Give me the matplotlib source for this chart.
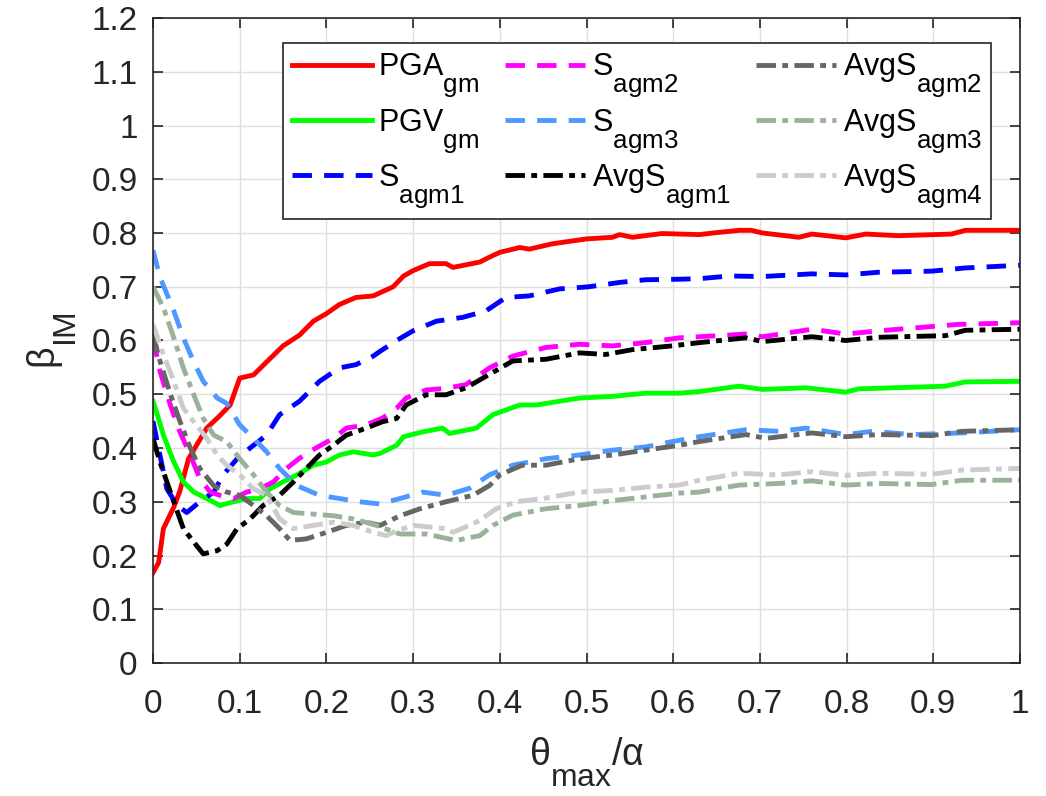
import numpy as np
import matplotlib
matplotlib.use('Agg')
import matplotlib.pyplot as plt
import matplotlib._mathtext as mt

plt.rcParams['font.family'] = ['Liberation Sans', 'DejaVu Sans']
plt.rcParams['mathtext.fontset'] = 'custom'
plt.rcParams['mathtext.rm'] = 'Liberation Sans'
plt.rcParams['mathtext.it'] = 'Liberation Sans:italic'
# MATLAB-like subscripts: nearly full size and dropped well below the baseline
mt.SHRINK_FACTOR = 0.85
mt.FontConstantsBase.sub1 = 1.0

# curves: beta_IM vs theta_max/alpha
pga_x = [0, 0.0065, 0.012, 0.024, 0.031, 0.041, 0.052, 0.062, 0.077, 0.089, 0.1, 0.116, 0.131, 0.15, 0.169,
         0.185, 0.2, 0.215, 0.234, 0.254, 0.277, 0.289, 0.3, 0.319, 0.338, 0.346, 0.377, 0.388, 0.4, 0.423,
         0.434, 0.461, 0.5, 0.53, 0.538, 0.553, 0.587, 0.63, 0.646, 0.676, 0.69, 0.703, 0.745, 0.76, 0.799,
         0.822, 0.86, 0.921, 0.937, 1.0]
pga_y = [0.168, 0.187, 0.25, 0.29, 0.32, 0.38, 0.41, 0.437, 0.46, 0.48, 0.53, 0.536, 0.56, 0.59, 0.61,
         0.636, 0.65, 0.667, 0.68, 0.683, 0.7, 0.72, 0.73, 0.743, 0.743, 0.736, 0.746, 0.755, 0.764, 0.773,
         0.77, 0.78, 0.789, 0.792, 0.797, 0.792, 0.799, 0.797, 0.8, 0.805, 0.805, 0.8, 0.792, 0.798, 0.791,
         0.798, 0.795, 0.798, 0.805, 0.805]

pgv_x = [0, 0.005, 0.012, 0.024, 0.035, 0.047, 0.062, 0.077, 0.093, 0.108, 0.123, 0.135, 0.15, 0.166, 0.185,
         0.2, 0.215, 0.231, 0.254, 0.262, 0.281, 0.289, 0.311, 0.334, 0.342, 0.373, 0.392, 0.423, 0.442, 0.492,
         0.53, 0.568, 0.607, 0.63, 0.676, 0.703, 0.753, 0.799, 0.814, 0.914, 0.937, 1.0]
pgv_y = [0.487, 0.462, 0.424, 0.374, 0.337, 0.318, 0.306, 0.293, 0.3, 0.306, 0.306, 0.324, 0.337, 0.35, 0.368,
         0.374, 0.387, 0.393, 0.387, 0.39, 0.405, 0.421, 0.43, 0.437, 0.427, 0.437, 0.462, 0.48, 0.48, 0.493,
         0.496, 0.502, 0.502, 0.505, 0.515, 0.509, 0.512, 0.504, 0.51, 0.515, 0.523, 0.524]

s1_x = [0, 0.008, 0.016, 0.028, 0.039, 0.054, 0.07, 0.081, 0.097, 0.112, 0.131, 0.146, 0.169, 0.192, 0.215,
        0.234, 0.254, 0.262, 0.281, 0.3, 0.327, 0.357, 0.384, 0.407, 0.434, 0.469, 0.503, 0.538, 0.568, 0.607,
        0.63, 0.665, 0.703, 0.76, 0.799, 0.837, 0.898, 0.937, 1.0]
s1_y = [0.45, 0.387, 0.324, 0.293, 0.28, 0.3, 0.318, 0.35, 0.38, 0.4, 0.424, 0.462, 0.487, 0.524, 0.549,
        0.555, 0.571, 0.58, 0.6, 0.618, 0.636, 0.643, 0.655, 0.68, 0.683, 0.696, 0.7, 0.708, 0.713, 0.714,
        0.715, 0.72, 0.719, 0.724, 0.722, 0.727, 0.729, 0.735, 0.74]

s2_x = [0, 0.008, 0.02, 0.031, 0.043, 0.054, 0.066, 0.077, 0.093, 0.108, 0.123, 0.139, 0.154, 0.169, 0.188,
        0.208, 0.223, 0.246, 0.265, 0.281, 0.292, 0.315, 0.338, 0.361, 0.388, 0.415, 0.453, 0.492, 0.53, 0.568,
        0.607, 0.63, 0.684, 0.703, 0.76, 0.799, 0.837, 0.875, 0.929, 1.0]
s2_y = [0.605, 0.543, 0.48, 0.43, 0.387, 0.343, 0.318, 0.312, 0.306, 0.318, 0.324, 0.337, 0.362, 0.381, 0.4,
        0.418, 0.437, 0.443, 0.456, 0.474, 0.493, 0.508, 0.511, 0.518, 0.549, 0.571, 0.587, 0.593, 0.59, 0.596,
        0.605, 0.607, 0.612, 0.607, 0.621, 0.612, 0.618, 0.623, 0.63, 0.633]

s3_x = [0, 0.008, 0.024, 0.035, 0.047, 0.058, 0.074, 0.085, 0.1, 0.116, 0.131, 0.146, 0.166, 0.192, 0.215,
        0.238, 0.261, 0.285, 0.311, 0.338, 0.365, 0.388, 0.415, 0.453, 0.492, 0.53, 0.568, 0.599, 0.63, 0.684,
        0.722, 0.753, 0.799, 0.83, 0.875, 0.933, 1.0]
s3_y = [0.768, 0.718, 0.655, 0.605, 0.56, 0.524, 0.493, 0.483, 0.443, 0.418, 0.393, 0.362, 0.33, 0.312, 0.306,
        0.3, 0.296, 0.306, 0.318, 0.312, 0.325, 0.35, 0.368, 0.38, 0.387, 0.396, 0.402, 0.412, 0.421, 0.434,
        0.431, 0.437, 0.425, 0.431, 0.425, 0.428, 0.434]

a1_x = [0, 0.008, 0.016, 0.024, 0.035, 0.047, 0.058, 0.074, 0.085, 0.097, 0.112, 0.127, 0.146, 0.162, 0.177,
        0.192, 0.208, 0.223, 0.246, 0.265, 0.281, 0.292, 0.315, 0.338, 0.361, 0.388, 0.415, 0.453, 0.492, 0.522,
        0.553, 0.599, 0.63, 0.684, 0.703, 0.76, 0.799, 0.837, 0.914, 0.937, 1.0]
a1_y = [0.418, 0.374, 0.337, 0.3, 0.25, 0.225, 0.203, 0.209, 0.221, 0.25, 0.268, 0.293, 0.312, 0.337, 0.362,
        0.387, 0.405, 0.424, 0.437, 0.449, 0.455, 0.48, 0.499, 0.499, 0.512, 0.537, 0.562, 0.565, 0.577, 0.574,
        0.583, 0.59, 0.596, 0.605, 0.598, 0.607, 0.6, 0.606, 0.609, 0.619, 0.621]

a2_x = [0, 0.008, 0.02, 0.031, 0.043, 0.054, 0.07, 0.085, 0.1, 0.116, 0.131, 0.146, 0.158, 0.177, 0.2,
        0.223, 0.246, 0.262, 0.285, 0.308, 0.338, 0.369, 0.388, 0.4, 0.426, 0.453, 0.492, 0.53, 0.568, 0.607,
        0.63, 0.684, 0.707, 0.76, 0.799, 0.837, 0.898, 0.933, 1.0]
a2_y = [0.612, 0.562, 0.5, 0.45, 0.4, 0.362, 0.33, 0.318, 0.312, 0.293, 0.274, 0.25, 0.228, 0.231, 0.243,
        0.256, 0.262, 0.256, 0.274, 0.287, 0.3, 0.312, 0.33, 0.35, 0.368, 0.368, 0.38, 0.387, 0.396, 0.405,
        0.412, 0.425, 0.418, 0.428, 0.421, 0.425, 0.423, 0.431, 0.434]

a3_x = [0, 0.012, 0.024, 0.035, 0.047, 0.058, 0.07, 0.085, 0.1, 0.116, 0.131, 0.146, 0.162, 0.185, 0.208,
        0.231, 0.254, 0.285, 0.315, 0.338, 0.35, 0.377, 0.392, 0.415, 0.453, 0.492, 0.53, 0.568, 0.607, 0.63,
        0.676, 0.722, 0.76, 0.799, 0.837, 0.898, 0.933, 1.0]
a3_y = [0.7, 0.661, 0.605, 0.549, 0.499, 0.455, 0.424, 0.412, 0.38, 0.35, 0.318, 0.293, 0.28, 0.277, 0.274,
        0.268, 0.258, 0.24, 0.24, 0.232, 0.228, 0.237, 0.256, 0.275, 0.287, 0.293, 0.302, 0.309, 0.316, 0.318,
        0.331, 0.334, 0.339, 0.331, 0.334, 0.332, 0.34, 0.34]

a4_x = [0, 0.012, 0.024, 0.035, 0.047, 0.062, 0.074, 0.085, 0.1, 0.116, 0.131, 0.146, 0.162, 0.185, 0.208,
        0.231, 0.254, 0.269, 0.281, 0.3, 0.319, 0.338, 0.346, 0.373, 0.388, 0.396, 0.419, 0.45, 0.492, 0.53,
        0.568, 0.607, 0.63, 0.676, 0.722, 0.76, 0.799, 0.837, 0.898, 0.933, 1.0]
a4_y = [0.63, 0.574, 0.524, 0.474, 0.449, 0.418, 0.387, 0.368, 0.35, 0.324, 0.312, 0.268, 0.25, 0.256, 0.262,
        0.256, 0.243, 0.237, 0.246, 0.256, 0.253, 0.25, 0.243, 0.262, 0.278, 0.287, 0.3, 0.306, 0.318, 0.321,
        0.327, 0.331, 0.34, 0.353, 0.35, 0.356, 0.349, 0.353, 0.351, 0.359, 0.362]

labels = [r'PGA$_{\rm gm}$', r'PGV$_{\rm gm}$', r'S$_{\rm agm1}$', r'S$_{\rm agm2}$', r'S$_{\rm agm3}$',
          r'AvgS$_{\rm agm1}$', r'AvgS$_{\rm agm2}$', r'AvgS$_{\rm agm3}$', r'AvgS$_{\rm agm4}$']

dash = (4, 2.5)
dashdot = (4, 1.3, 1.2, 1.3)
series = [
    (pga_x, pga_y, '#FF0000', None),
    (pgv_x, pgv_y, '#00FF00', None),
    (s1_x, s1_y, '#0000FF', dash),
    (s2_x, s2_y, '#FF00FF', dash),
    (s3_x, s3_y, '#4D99FF', dash),
    (a1_x, a1_y, '#000000', dashdot),
    (a2_x, a2_y, '#666666', dashdot),
    (a3_x, a3_y, '#99B299', dashdot),
    (a4_x, a4_y, '#CCCCCC', dashdot),
]

fig = plt.figure(figsize=(10.46, 7.96), dpi=100)
ax = fig.add_axes([153/1046, 1 - 663/796, (1020-153)/1046, (663-18)/796])

for (x, y, c, d), lab in zip(series, labels):
    line, = ax.plot(x, y, color=c, lw=3.5, label=lab)
    if d is not None:
        line.set_dashes(d)

ax.set_xlim(0, 1)
ax.set_ylim(0, 1.2)
ax.set_xticks(np.arange(0, 1.01, 0.1))
ax.set_xticklabels(['0', '0.1', '0.2', '0.3', '0.4', '0.5', '0.6', '0.7', '0.8', '0.9', '1'])
ax.set_yticks(np.arange(0, 1.21, 0.1))
ax.set_yticklabels(['0', '0.1', '0.2', '0.3', '0.4', '0.5', '0.6', '0.7', '0.8', '0.9', '1', '1.1', '1.2'])
ax.grid(True, color='#DFDFDF', lw=1)
ax.set_axisbelow(True)
ax.tick_params(direction='in', top=True, right=True, length=7, width=1.2,
               labelsize=24, colors='#262626')
ax.tick_params(axis='x', pad=18.5)
ax.tick_params(axis='y', pad=11)
for s in ax.spines.values():
    s.set_color('#262626')
    s.set_linewidth(1.2)

ax.set_xlabel(r'θ$_{\rm max}$/α', fontsize=27, labelpad=11, color='#262626')
ax.set_ylabel(r'β$_{\rm IM}$', fontsize=27, labelpad=10, color='#262626')

leg = ax.legend(ncol=3, loc='upper left', bbox_to_anchor=(130/867, 1 - 25/645), fontsize=22,
                handlelength=2.6, handletextpad=0.22, columnspacing=0.85, labelspacing=0.27,
                fancybox=False, framealpha=1, borderpad=0.3, borderaxespad=0)
leg.get_frame().set_edgecolor('#262626')
leg.get_frame().set_linewidth(1.2)

fig.savefig('out.png', dpi=100)
